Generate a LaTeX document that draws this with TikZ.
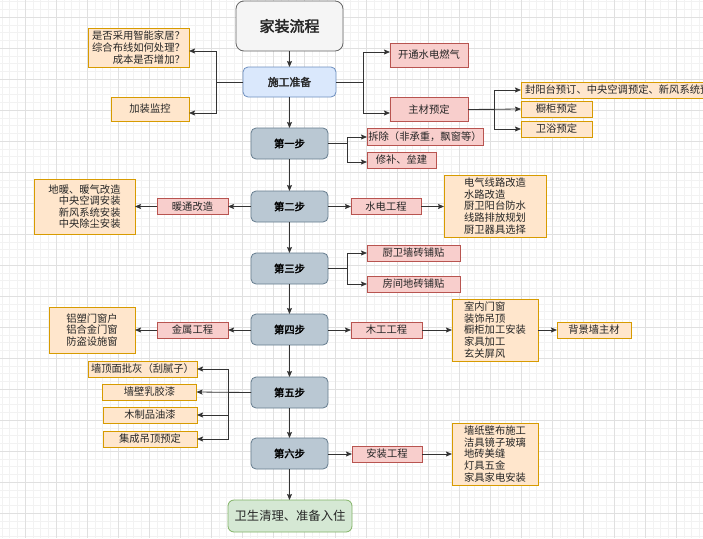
\documentclass[tikz,border=0pt]{standalone}
\usepackage{fontspec}
\setmainfont{Noto Sans CJK SC}[AutoFakeBold=2.5]
\usetikzlibrary{arrows.meta}
\definecolor{redF}{HTML}{F8CECC}\definecolor{redD}{HTML}{B85450}
\definecolor{orF}{HTML}{FFE6CC}\definecolor{orD}{HTML}{D79B00}
\definecolor{blF}{HTML}{DAE8FC}\definecolor{blD}{HTML}{6C8EBF}
\definecolor{stF}{HTML}{BAC8D3}\definecolor{stD}{HTML}{23445D}
\definecolor{grF}{HTML}{D5E8D4}\definecolor{grD}{HTML}{82B366}
\definecolor{tiF}{HTML}{F5F5F5}\definecolor{tiD}{HTML}{666666}
\tikzset{
  base/.style={draw, inner sep=0pt, outer sep=0pt, line width=0.8pt, text=black!85,
    font=\fontsize{10.3}{11.6}\selectfont},
  redbox/.style={base, fill=redF, draw=redD},
  orbox/.style={base, fill=orF, draw=orD},
  stepbox/.style={base, rounded corners=5pt, fill=stF, draw=stD!70, minimum width=77pt, minimum height=31pt,
    font=\fontsize{10.3}{12}\selectfont\bfseries, text=black},
  conn/.style={draw=black!80, line width=0.8pt},
  arr/.style={conn, -{Stealth[length=6pt,width=5pt,inset=1pt]}},
  minorg/.style={draw=black!5, line width=0.5pt},
  majorg/.style={draw=black!12, line width=0.5pt},
}
\begin{document}
\begin{tikzpicture}[x=1pt,y=-1pt]
\useasboundingbox (0,0) rectangle (703,538);
\clip (0,0) rectangle (703,538);
\fill[white] (0,0) rectangle (703,538);
% grid
\foreach \i in {0,...,91} {\draw[minorg] ({1.75+\i*7.75},0) -- ++(0,538);}
\foreach \i in {0,...,70} {\draw[minorg] (0,{1.5+\i*7.75}) -- ++(703,0);}
\foreach \i in {0,...,23} {\draw[majorg] ({25+(\i-1)*31},0) -- ++(0,538);}
\foreach \i in {0,...,18} {\draw[majorg] (0,{17+(\i-1)*31}) -- ++(703,0);}

% main column
\node[base, rounded corners=8pt, fill=tiF, draw=tiD, minimum width=107pt, minimum height=50pt,
  font=\fontsize{15}{16}\selectfont\bfseries, text=black!85] (title) at (289.5,26) {家装流程};
\node[base, rounded corners=5pt, fill=blF, draw=blD, minimum width=93pt, minimum height=30pt,
  font=\fontsize{10.8}{12}\selectfont\bfseries] (prep) at (289.5,82) {施工准备};
\node[stepbox] (s1) at (289.5,143.5) {第一步};
\node[stepbox] (s2) at (289.5,206.5) {第二步};
\node[stepbox] (s3) at (289.5,268.5) {第三步};
\node[stepbox] (s4) at (289.5,329.5) {第四步};
\node[stepbox] (s5) at (289.5,392.5) {第五步};
\node[stepbox] (s6) at (289.5,453.5) {第六步};
\node[base, rounded corners=6pt, fill=grF, draw=grD, minimum width=124pt, minimum height=32pt,
  font=\fontsize{12.3}{14}\selectfont] (fin) at (290,516) {卫生清理、准备入住};

\draw[arr] (title) -- (prep);
\draw[arr] (prep) -- (s1);
\draw[arr] (s1) -- (s2);
\draw[arr] (s2) -- (s3);
\draw[arr] (s3) -- (s4);
\draw[arr] (s4) -- (s5);
\draw[arr] (s5) -- (s6);
\draw[arr] (s6.south) -- (s6.south |- fin.north);

% 施工准备 branches
\node[orbox, minimum width=101pt, minimum height=39pt, align=right] (q1) at (138.5,47.5)
  {是否采用智能家居？\\综合布线如何处理？\\成本是否增加？};
\node[orbox, minimum width=78pt, minimum height=24pt] (q2) at (150,109) {加装监控};
\draw[arr] (prep.west) -| (216,51) -- (q1.east |- 0,51);
\draw[arr] (prep.west) -| (216,113) -- (q2.east |- 0,113);

\node[redbox, minimum width=78pt, minimum height=24pt] (kt) at (429,55) {开通水电燃气};
\node[redbox, minimum width=78pt, minimum height=24pt] (zc) at (429,109.5) {主材预定};
\draw[arr] (prep.east) -| (363,52) -- (kt.west |- 0,52);
\draw[arr] (prep.east) -| (363,113) -- (zc.west |- 0,113);

\node[orbox, minimum width=234pt, minimum height=16pt, text width=226pt, align=left] (fy) at (638,90) {封阳台预订、中央空调预定、新风系统预定};
\node[orbox, minimum width=71pt, minimum height=16pt] (cg) at (556.5,109) {橱柜预定};
\node[orbox, minimum width=71pt, minimum height=16pt] (wy) at (556.5,129) {卫浴预定};
\draw[arr] (zc.east) -| (494,90) -- (fy.west);
\draw[arr] (zc.east) -- (cg.west);
\draw[arr] (zc.east) -| (494,129) -- (wy.west);

% 第一步
\node[redbox, minimum width=116pt, minimum height=17pt] (cc) at (425,136.5) {拆除（非承重，飘窗等）};
\node[redbox, minimum width=69pt, minimum height=16pt] (xb) at (401.5,160) {修补、垒建};
\draw[arr] (s1.east) -| (347,137) -- (cc.west |- 0,137);
\draw[arr] (s1.east) -| (347,162) -- (xb.west |- 0,162);

% 第二步
\node[redbox, minimum width=71pt, minimum height=16pt] (nt) at (192.5,206.5) {暖通改造};
\node[orbox, minimum width=101pt, minimum height=55pt, align=right] (ntd) at (84.5,206.5)
  {地暖、暖气改造\\中央空调安装\\新风系统安装\\中央除尘安装};
\draw[arr] (s2.west) -- (nt.east);
\draw[arr] (nt.west) -- (ntd.east);
\node[redbox, minimum width=70pt, minimum height=16pt] (sd) at (386,206.5) {水电工程};
\node[orbox, minimum width=102pt, minimum height=62pt, align=left] (sdd) at (495,206)
  {电气线路改造\\水路改造\\厨卫阳台防水\\线路排放规划\\厨卫器具选择};
\draw[arr] (s2.east) -- (sd.west);
\draw[arr] (sd.east) -- (sdd.west |- sd.east);

% 第三步
\node[redbox, minimum width=93pt, minimum height=16pt] (qz) at (413.5,253) {厨卫墙砖铺贴};
\node[redbox, minimum width=93pt, minimum height=16pt] (dz) at (413.5,284) {房间地砖铺贴};
\draw[arr] (s3.east) -| (347,253) -- (qz.west);
\draw[arr] (s3.east) -| (347,284) -- (dz.west);

% 第四步
\node[redbox, minimum width=71pt, minimum height=16pt] (js) at (192.5,330) {金属工程};
\node[orbox, minimum width=86pt, minimum height=46pt, align=center] (jsd) at (92,330)
  {铝塑门窗户\\铝合金门窗\\防盗设施窗};
\draw[arr] (s4.west |- js.east) -- (js.east);
\draw[arr] (js.west) -- (jsd.east |- js.west);
\node[redbox, minimum width=71pt, minimum height=16pt] (mg) at (386.5,330) {木工工程};
\node[orbox, minimum width=86pt, minimum height=62pt, align=left] (mgd) at (495,330)
  {室内门窗\\装饰吊顶\\橱柜加工安装\\家具加工\\玄关屏风};
\node[orbox, minimum width=74pt, minimum height=16pt] (bj) at (594,330) {背景墙主材};
\draw[arr] (s4.east |- mg.west) -- (mg.west);
\draw[arr] (mg.east) -- (mgd.west |- mg.east);
\draw[arr] (mgd.east |- bj.west) -- (bj.west);

% 第五步
\node[orbox, minimum width=109pt, minimum height=16pt] (p1) at (142.5,369) {墙顶面批灰（刮腻子）};
\node[orbox, minimum width=94pt, minimum height=16pt] (p2) at (149.5,392) {墙壁乳胶漆};
\node[orbox, minimum width=94pt, minimum height=16pt] (p3) at (150,415) {木制品油漆};
\node[orbox, minimum width=94pt, minimum height=16pt] (p4) at (150,439) {集成吊顶预定};
\draw[arr] (s5.west) -| (228,369) -- (p1.east);
\draw[arr] (s5.west) -- (p2.east);
\draw[arr] (s5.west) -| (228,415) -- (p3.east);
\draw[arr] (s5.west) -| (228,439) -- (p4.east);

% 第六步
\node[redbox, minimum width=70pt, minimum height=16pt] (az) at (387,454) {安装工程};
\node[orbox, minimum width=86pt, minimum height=62pt, align=left] (azd) at (495,454)
  {墙纸壁布施工\\洁具镜子玻璃\\地砖美缝\\灯具五金\\家具家电安装};
\draw[arr] (s6.east |- az.west) -- (az.west);
\draw[arr] (az.east) -- (azd.west |- az.east);
\end{tikzpicture}
\end{document}
